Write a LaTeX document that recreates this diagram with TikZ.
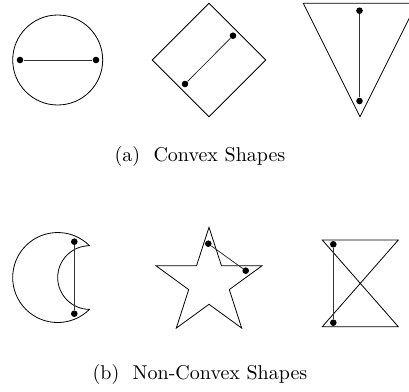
\documentclass[tikz,border=0pt]{standalone}
\tikzset{
  dot/.style={circle, fill=black, inner sep=0pt, minimum size=3.3pt},
  chord/.style={draw=black!80}
}
\begin{document}
\begin{tikzpicture}[x=0.5pt, y=-0.5pt]
			\useasboundingbox (0,0) rectangle (409,392);
			\clip (0,0) rectangle (409,392);
			
			% convex shapes
			{
				\draw (57.7,60) circle[radius=45];
				\node[dot] (C1) at (20,60) {};
				\node[dot] (C2) at (96,60) {};
				\draw[chord] (C1) -- (C2);
			}
			
			{
				\draw (209,3.3) -- (265.7,60) -- (209,116.7) -- (152.3,60) -- cycle;
				\node[dot] (D1) at (233,35.7) {};
				\node[dot] (D2) at (185,84) {};
				\draw[chord] (D1) -- (D2);
			}
			
			{
				\draw (303.3,3.3) -- (416.7,3.3) -- (360,116.7) -- cycle;
				\node[dot] (T1) at (359.5,10.7) {};
				\node[dot] (T2) at (359.5,101) {};
				\draw[chord] (T1) -- (T2);
			}
			
			\node (CAPA) at (200,156) {(a)\ \ Convex Shapes};
			
			% non-convex shapes
			{
				\draw (89.5,245.7) arc[start angle=-45, end angle=-315, radius=45]
				      arc[start angle=90, end angle=270, radius=31.8] -- cycle;
				\node[dot] (M1) at (74.3,241.7) {};
				\node[dot] (M2) at (74.3,313.7) {};
				\draw[chord] (M1) -- (M2);
			}
			
			{
				\draw (209,227.3) -- (196.5,265.8) -- (156,265.8) -- (188.7,289.6)
				      -- (176.3,328.1) -- (209,304.3) -- (241.7,328.1) -- (229.3,289.6)
				      -- (262,265.8) -- (221.5,265.8) -- cycle;
				\node[dot] (S1) at (208.3,243.7) {};
				\node[dot] (S2) at (245.7,270.7) {};
				\draw[chord] (S1) -- (S2);
			}
			
			{
				\draw (322.3,240) -- (398.3,240) -- (322.3,326.7) -- (398.3,326.7) -- cycle;
				\node[dot] (H1) at (333.3,244.3) {};
				\node[dot] (H2) at (333.3,322.7) {};
				\draw[chord] (H1) -- (H2);
			}
			
			\node (CAPB) at (200,374) {(b)\ \ Non-Convex Shapes};
		\end{tikzpicture}
\end{document}
